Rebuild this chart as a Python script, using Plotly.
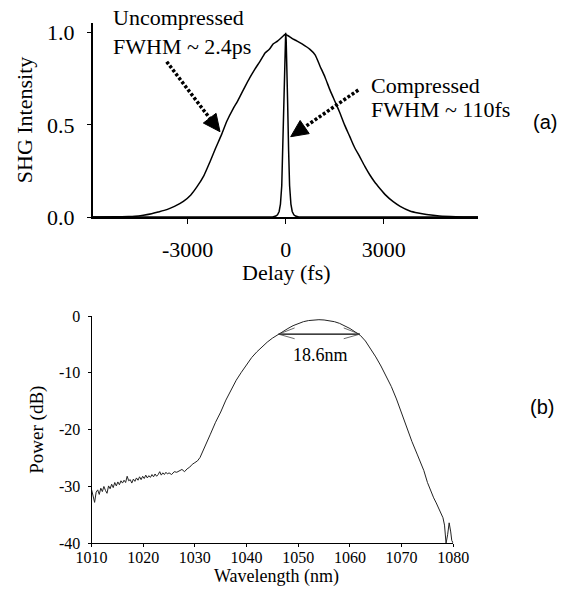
import plotly.graph_objects as go

# ---------------- data ----------------
# (a) autocorrelation traces
unc_delay = [-5900, -5200, -4800, -4500, -4350, -4100, -3900, -3635, -3400, -3128,
             -2900, -2720, -2500, -2313, -2150, -1955, -1800, -1600, -1500, -1396,
             -1250, -1100, -950, -785, -700, -632, -500, -378, -250, -150,
             -60, -20, 60, 150, 233, 350, 500, 742, 900, 1047,
             1200, 1353, 1500, 1659, 1800, 1964, 2100, 2270, 2420, 2575,
             2720, 2880, 3050, 3287, 3500, 3797, 4050, 4306, 4700, 5200, 5880]
unc_shg = [0.0, 0.001, 0.003, 0.006, 0.010, 0.018, 0.027, 0.040, 0.058, 0.085,
           0.120, 0.162, 0.225, 0.300, 0.370, 0.450, 0.520, 0.590, 0.620, 0.655,
           0.705, 0.755, 0.800, 0.845, 0.870, 0.890, 0.910, 0.940, 0.955, 0.970,
           0.985, 0.990, 0.985, 0.975, 0.965, 0.955, 0.940, 0.910, 0.880, 0.820,
           0.760, 0.690, 0.630, 0.565, 0.500, 0.435, 0.380, 0.325, 0.275, 0.228,
           0.190, 0.155, 0.120, 0.083, 0.058, 0.033, 0.022, 0.014, 0.006, 0.002, 0.0]

comp_delay = [-5900, -1500, -400, -300, -250, -200, -160, -120, -90, -60, -35, -15, 0,
              15, 35, 60, 90, 120, 160, 200, 250, 300, 400, 1500, 5880]
comp_shg = [0, 0, 0, 0.005, 0.012, 0.03, 0.07, 0.17, 0.36, 0.62, 0.84, 0.96, 1.0,
            0.96, 0.84, 0.62, 0.36, 0.17, 0.07, 0.03, 0.012, 0.005, 0, 0, 0]

top_xticks = [-3000, 0, 3000]
top_xlabels = ["-3000", "0", "3000"]
top_yticks = [0, 0.5, 1.0]
top_ylabels = ["0.0", "0.5", "1.0"]

# (b) spectrum
wl = [1010.0, 1010.3, 1010.6, 1010.9, 1011.2, 1011.5, 1011.8, 1012.1, 1012.4, 1012.7,
      1013.0, 1013.3, 1013.6, 1013.9, 1014.2, 1014.5, 1014.8, 1015.1, 1015.4, 1015.7,
      1016.0, 1016.3, 1016.6, 1016.9, 1017.2, 1017.5, 1017.8, 1018.1, 1018.4, 1018.7,
      1019.0, 1019.3, 1019.6, 1019.9, 1020.2, 1020.5, 1020.8, 1021.1, 1021.4, 1021.7,
      1022.0, 1022.3, 1022.6, 1022.9, 1023.2, 1023.5, 1023.8, 1024.1, 1024.4, 1024.7,
      1025.0, 1025.5, 1026.0, 1026.5, 1027.0, 1027.5, 1028.0, 1028.5, 1029.0, 1029.5,
      1030.0, 1030.5, 1031.0, 1032.0, 1033.0, 1034.0, 1035.0, 1036.0, 1037.0, 1038.0,
      1039.0, 1040.0, 1041.0, 1042.0, 1043.0, 1044.0, 1045.0, 1046.0, 1047.0, 1048.0,
      1049.0, 1050.0, 1051.0, 1052.0, 1053.0, 1054.0, 1055.0, 1056.0, 1057.0, 1058.0,
      1059.0, 1060.0, 1061.0, 1062.0, 1063.0, 1064.0, 1065.0, 1066.0, 1067.0, 1068.0,
      1069.0, 1070.0, 1071.0, 1072.0, 1073.0, 1073.7, 1074.3, 1075.0, 1075.6, 1076.2,
      1076.7, 1077.2, 1077.6, 1078.0, 1078.3, 1078.6, 1078.9, 1079.2, 1079.5, 1079.7, 1080.0]
power_db = [-30.5, -31.5, -32.8, -31.0, -30.6, -31.4, -30.3, -30.9, -30.0, -30.7,
            -31.2, -29.9, -30.4, -29.6, -30.2, -29.3, -29.9, -29.2, -29.7, -29.0,
            -29.4, -28.9, -29.3, -28.2, -29.0, -28.8, -29.4, -28.7, -29.1, -28.5,
            -28.9, -28.3, -28.8, -28.2, -28.6, -28.0, -28.5, -28.1, -28.4, -27.9,
            -28.3, -27.8, -28.2, -27.9, -27.4, -28.0, -27.6, -27.9, -27.5, -27.8,
            -27.6, -27.9, -27.4, -27.5, -27.3, -27.0, -27.4, -26.9, -26.6, -26.1,
            -25.8, -25.5, -24.9, -23.0, -20.8, -18.7, -16.9, -14.8, -12.9, -11.3,
            -9.9, -8.5, -7.3, -6.3, -5.4, -4.6, -3.9, -3.3, -2.7, -2.2,
            -1.7, -1.3, -1.0, -0.8, -0.7, -0.65, -0.7, -0.8, -1.0, -1.3,
            -1.7, -2.2, -2.8, -3.4, -4.4, -5.7, -7.2, -8.8, -10.5, -12.4,
            -14.6, -17.2, -19.7, -22.1, -24.3, -25.8, -27.2, -29.3, -30.8, -32.0,
            -32.9, -33.8, -34.6, -35.5, -36.8, -40.0, -38.5, -36.4, -38.0, -39.5, -40.0]

bot_xticks = [1010, 1020, 1030, 1040, 1050, 1060, 1070, 1080]
bot_xlabels = ["1010", "1020", "1030", "1040", "1050", "1060", "1070", "1080"]
bot_yticks = [-40, -30, -20, -10, 0]
bot_ylabels = ["-40", "-30", "-20", "-10", "0"]

fwhm_left, fwhm_right, fwhm_level = 1046.2, 1061.9, -3.2

# ---------------- layout helpers ----------------
W, H = 564, 599
TOP_X = (92.7, 478.0)
TOP_Y = (23.0, 217.0)
BOT_X = (91.5, 453.3)
BOT_Y = (316.0, 543.3)
TOP_XR = [-5900, 5880]
TOP_YR = [0, 1.053]
BOT_XR = [1010, 1080]
BOT_YR = [-40, 0]

SERIF = "Liberation Serif, Times New Roman, serif"
SANS = "Liberation Sans, Arial, sans-serif"


def top_px(px, py):
    x = TOP_XR[0] + (px - TOP_X[0]) / (TOP_X[1] - TOP_X[0]) * (TOP_XR[1] - TOP_XR[0])
    y = TOP_YR[0] + (TOP_Y[1] - py) / (TOP_Y[1] - TOP_Y[0]) * (TOP_YR[1] - TOP_YR[0])
    return x, y


fig = go.Figure()
fig.add_trace(go.Scatter(x=unc_delay, y=unc_shg, mode="lines",
                         line=dict(color="black", width=1.5, shape="spline", smoothing=0.6),
                         xaxis="x", yaxis="y", showlegend=False, cliponaxis=False))
fig.add_trace(go.Scatter(x=comp_delay, y=comp_shg, mode="lines",
                         line=dict(color="black", width=1.5), xaxis="x", yaxis="y",
                         showlegend=False, cliponaxis=False))
fig.add_trace(go.Scatter(x=wl, y=power_db, mode="lines",
                         line=dict(color="#222222", width=1), xaxis="x2", yaxis="y2",
                         showlegend=False, cliponaxis=False))

axis_common = dict(showgrid=False, zeroline=False, showline=True, linecolor="black",
                   ticks="outside", tickcolor="black", mirror=False, automargin=False)

fig.update_layout(
    template="none",
    width=W, height=H,
    margin=dict(l=0, r=0, t=0, b=0, pad=0),
    paper_bgcolor="white", plot_bgcolor="white",
    xaxis=dict(**axis_common, domain=[TOP_X[0] / W, TOP_X[1] / W], range=TOP_XR,
               anchor="y", tickvals=top_xticks, ticktext=top_xlabels, ticklen=5, linewidth=1.5,
               tickwidth=1.2, ticklabelstandoff=7,
               tickfont=dict(family=SERIF, size=22, color="black")),
    yaxis=dict(**axis_common, domain=[1 - TOP_Y[1] / H, 1 - TOP_Y[0] / H], range=TOP_YR,
               anchor="x", tickvals=top_yticks, ticktext=top_ylabels, ticklen=4,
               linewidth=1.5, tickwidth=1.2, ticklabelstandoff=8,
               tickfont=dict(family=SERIF, size=22, color="black"),
               title=dict(text="SHG Intensity", font=dict(family=SERIF, size=22, color="black"),
                          standoff=8)),
    xaxis2=dict(**axis_common, domain=[BOT_X[0] / W, BOT_X[1] / W], range=BOT_XR,
                anchor="y2", tickvals=bot_xticks, ticktext=bot_xlabels, ticklen=3,
                linewidth=1, tickwidth=1, ticklabelstandoff=-4,
                tickfont=dict(family=SERIF, size=16, color="black")),
    yaxis2=dict(**axis_common, domain=[1 - BOT_Y[1] / H, 1 - BOT_Y[0] / H], range=BOT_YR,
                anchor="x2", tickvals=bot_yticks, ticktext=bot_ylabels, ticklen=3,
                linewidth=1, tickwidth=1, ticklabelstandoff=4,
                tickfont=dict(family=SERIF, size=16, color="black"),
                title=dict(text="Power (dB)", font=dict(family=SERIF, size=19, color="black"),
                           standoff=10)),
)

# ---------------- text annotations ----------------
def ptext(text, px, py, size, family=SERIF, xanchor="left"):
    fig.add_annotation(text=text, xref="paper", yref="paper", x=px / W, y=1 - py / H,
                       xanchor=xanchor, yanchor="middle", showarrow=False,
                       font=dict(family=family, size=size, color="black"))

ptext("Delay (fs)", 286.7, 272, 22, xanchor="center")
ptext("Wavelength (nm)", 276, 576, 18, xanchor="center")
ptext("Uncompressed", 111, 17, 22)
ptext("FWHM ~ 2.4ps", 111, 46, 22)
ptext("Compressed", 369, 86, 22)
ptext("FWHM ~ 110fs", 369, 110, 22)
ptext("(a)", 545, 122, 20, family=SANS, xanchor="center")
ptext("(b)", 542, 407, 20, family=SANS, xanchor="center")


def dotted_arrow(tail, tip, headlen=17):
    dx, dy = tip[0] - tail[0], tip[1] - tail[1]
    L = (dx * dx + dy * dy) ** 0.5
    ux, uy = dx / L, dy / L
    base = (tip[0] - ux * headlen, tip[1] - uy * headlen)
    x0, y0 = top_px(*tail)
    x1, y1 = top_px(*base)
    fig.add_shape(type="line", xref="x", yref="y", x0=x0, y0=y0, x1=x1, y1=y1,
                  line=dict(color="black", width=3.5, dash="3px,2px"))
    hw = 8
    px_, py_ = -uy, ux
    pts = [tip, (base[0] + px_ * hw, base[1] + py_ * hw), (base[0] - px_ * hw, base[1] - py_ * hw)]
    d = "M " + " L ".join("%f,%f" % top_px(*p) for p in pts) + " Z"
    fig.add_shape(type="path", xref="x", yref="y", path=d,
                  fillcolor="black", line=dict(color="black", width=1))

dotted_arrow((166.7, 61.7), (220.0, 131.7))
dotted_arrow((358.3, 90.0), (290.7, 136.7))

# ---------------- FWHM marker (b) ----------------
fig.add_shape(type="line", xref="x2", yref="y2", x0=fwhm_left, y0=fwhm_level,
              x1=fwhm_right, y1=fwhm_level, line=dict(color="black", width=1.2))
for tipx, sgn in ((fwhm_left, 1), (fwhm_right, -1)):
    for dy in (1.1, -0.8):
        fig.add_shape(type="line", xref="x2", yref="y2", x0=tipx, y0=fwhm_level,
                      x1=tipx + sgn * 3.1, y1=fwhm_level + dy,
                      line=dict(color="#444444", width=0.8))
fig.add_annotation(text="18.6nm", xref="x2", yref="y2", x=1054.4, y=-6.9,
                   showarrow=False, xanchor="center", yanchor="middle",
                   font=dict(family=SERIF, size=18, color="black"))

fig.write_html("out.html", config={"displayModeBar": False},
               post_script="document.body.style.margin='0px';document.body.style.overflow='hidden';")
